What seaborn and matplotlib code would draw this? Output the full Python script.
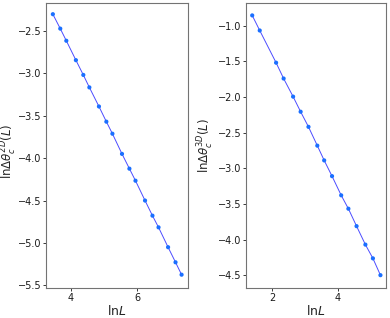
import numpy as np
import seaborn as sns
import matplotlib.pyplot as plt
import pandas as pd

# ln L and ln Δθ_c(L)
lnL_2d = [3.466, 3.689, 3.871, 4.159, 4.382, 4.564, 4.852, 5.075, 5.257,
          5.545, 5.768, 5.951, 6.238, 6.461, 6.644, 6.931, 7.155, 7.337]
lntheta_2d = [-2.302, -2.472, -2.615, -2.844, -3.018, -3.165, -3.390, -3.569, -3.711,
              -3.949, -4.123, -4.265, -4.499, -4.677, -4.815, -5.049, -5.227, -5.373]

lnL_3d = [1.38, 1.61, 2.11, 2.34, 2.63, 2.86, 3.10, 3.37, 3.58,
          3.82, 4.10, 4.32, 4.57, 4.84, 5.07, 5.30]
lntheta_3d = [-0.854, -1.066, -1.518, -1.740, -1.994, -2.206, -2.418, -2.682, -2.889,
              -3.110, -3.379, -3.567, -3.812, -4.071, -4.264, -4.500]


def main():
    sns.set_style("ticks")
    plt.rcParams["font.family"] = ["DejaVu Sans"]
    plt.rcParams["mathtext.fontset"] = "dejavusans"

    fig = plt.figure(figsize=(3.9, 3.18), dpi=100)
    ax1 = fig.add_axes([46 / 390, 30 / 318, 142 / 390, 285 / 318])
    ax2 = fig.add_axes([246 / 390, 30 / 318, 140 / 390, 285 / 318])

    panels = [
        (ax1, lnL_2d, lntheta_2d, r"ln$\Delta\theta_c^{2D}(L)$", -0.192, 0.48),
        (ax2, lnL_3d, lntheta_3d, r"ln$\Delta\theta_c^{3D}(L)$", -0.215, 0.5),
    ]
    for ax, xs, ys, ylab, lx, ly in panels:
        df = pd.DataFrame({"x": xs, "y": ys})
        sns.lineplot(data=df, x="x", y="y", ax=ax, color="blue", alpha=0.7,
                     linewidth=0.7, sort=False)
        sns.scatterplot(data=df, x="x", y="y", ax=ax, color="#1a6fff", s=9,
                        edgecolor="none", zorder=3)
        ax.set_xlabel(r"ln$L$", fontsize=9, labelpad=1)
        ax.set_ylabel(ylab, fontsize=8.5)
        ax.yaxis.set_label_coords(lx, ly)
        ax.tick_params(labelsize=7, length=2.5, width=0.6, pad=1, colors="0.1")
        for sp in ax.spines.values():
            sp.set_color("0.45")
            sp.set_linewidth(0.8)

    ax1.set_xticks([4, 6])
    ax1.set_yticks([-2.5, -3.0, -3.5, -4.0, -4.5, -5.0, -5.5])
    ax1.set_xlim(3.26, 7.53)
    ax1.set_ylim(-5.53, -2.17)

    ax2.set_xticks([2, 4])
    ax2.set_yticks([-1.0, -1.5, -2.0, -2.5, -3.0, -3.5, -4.0, -4.5])
    ax2.set_xlim(1.19, 5.47)
    ax2.set_ylim(-4.68, -0.68)

    fig.savefig("out.png", dpi=100)
    plt.close(fig)


if __name__ == "__main__":
    main()
